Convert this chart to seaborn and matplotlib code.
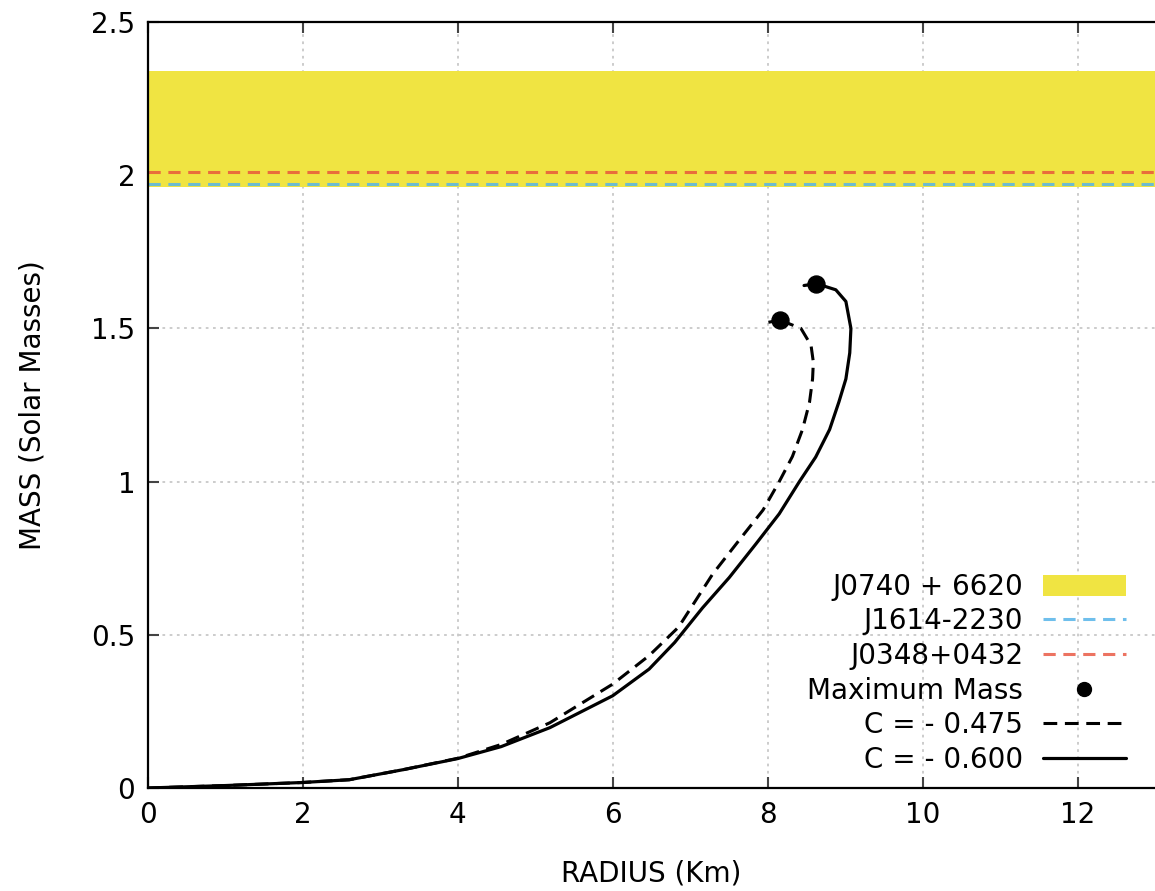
import matplotlib
matplotlib.use("Agg")
import matplotlib.pyplot as plt
import seaborn as sns
import numpy as np
import pandas as pd
from matplotlib.lines import Line2D
from matplotlib.patches import Patch

# ---- data ----
radius_c475 = [0.0, 0.5, 1.0, 1.5, 2.0, 2.6, 3.3, 4.0, 4.56, 5.19, 6.0, 6.47, 6.85, 7.29, 7.63,
               7.94, 8.15, 8.32, 8.45, 8.54, 8.58, 8.59, 8.56, 8.43, 8.16, 8.01]
mass_c475   = [0.0, 0.004, 0.008, 0.013, 0.018, 0.027, 0.060, 0.097, 0.142, 0.213, 0.339, 0.432, 0.525, 0.698, 0.808,
               0.907, 1.0, 1.082, 1.17, 1.258, 1.335, 1.39, 1.445, 1.50, 1.527, 1.52]

radius_c600 = [0.0, 0.5, 1.0, 1.5, 2.0, 2.6, 3.3, 4.0, 4.56, 5.19, 6.0, 6.47, 6.8, 7.16, 7.505,
               7.85, 8.15, 8.41, 8.62, 8.80, 8.92, 9.01, 9.06, 9.075, 9.01, 8.88, 8.63, 8.47]
mass_c600   = [0.0, 0.004, 0.008, 0.013, 0.018, 0.027, 0.060, 0.096, 0.135, 0.197, 0.301, 0.388, 0.475, 0.588, 0.687,
               0.797, 0.895, 1.0, 1.08, 1.17, 1.26, 1.335, 1.42, 1.50, 1.588, 1.626, 1.646, 1.64]

max_radius = [8.16, 8.63]
max_mass   = [1.527, 1.646]

j0740_low, j0740_high = 1.96, 2.34
j1614_mass = 1.97
j0348_mass = 2.01

labels = ["J0740 + 6620", "J1614-2230", "J0348+0432", "Maximum Mass", "C = - 0.475", "C = - 0.600"]
x_ticks = [0, 2, 4, 6, 8, 10, 12]
y_ticks = [0, 0.5, 1, 1.5, 2, 2.5]
y_tick_labels = ["0", "0.5", "1", "1.5", "2", "2.5"]

# ---- style ----
sns.set_theme(style="white")
plt.rcParams['font.family'] = ['DejaVu Sans']
plt.rcParams['text.color'] = 'black'
plt.rcParams['axes.labelcolor'] = 'black'

fig = plt.figure(figsize=(11.55, 8.91), dpi=100)
ax = fig.add_axes([0.128, 0.1156, 0.872, 0.8597])

yellow = "#f0e442"
blue = "#56b4e9"
red = "#e8503a"

ax.fill_between([0, 13], [j0740_low] * 2, [j0740_high] * 2, color=yellow, lw=0, zorder=1)
ax.axhline(j1614_mass, color=blue, lw=2.2, dashes=(4, 2.5), alpha=0.85, zorder=2)
ax.axhline(j0348_mass, color=red, lw=2.2, dashes=(4, 2.5), alpha=0.8, zorder=2)

df475 = pd.DataFrame({"R": radius_c475, "M": mass_c475})
df600 = pd.DataFrame({"R": radius_c600, "M": mass_c600})
sns.lineplot(data=df475, x="R", y="M", sort=False, estimator=None, ax=ax,
             color="black", lw=2.2, zorder=3)
ax.lines[-1].set_dashes((4.5, 2.5))
sns.lineplot(data=df600, x="R", y="M", sort=False, estimator=None, ax=ax,
             color="black", lw=2.3, zorder=3)
sns.scatterplot(x=max_radius, y=max_mass, ax=ax, color="black", s=150,
                edgecolor="black", zorder=4)

ax.set_xlim(0, 13)
ax.set_ylim(0, 2.5)
ax.set_xticks(x_ticks)
ax.set_yticks(y_ticks)
ax.set_xticklabels([str(t) for t in x_ticks])
ax.set_yticklabels(y_tick_labels)
ax.grid(True, color="#c8c8c8", linestyle=(0, (1.5, 2.5)), lw=1.3)
ax.set_axisbelow(True)

for s in ["left", "top", "bottom"]:
    ax.spines[s].set_color("black")
    ax.spines[s].set_linewidth(1.6)
ax.spines["right"].set_visible(False)
ax.tick_params(direction="in", length=8, width=1.5, color="#444444",
               top=True, bottom=True, left=True, right=False,
               labelsize=20, pad=9, labelcolor="black")

ax.set_xlabel("RADIUS (Km)", fontsize=20, labelpad=22)
ax.set_ylabel("MASS (Solar Masses)", fontsize=20, labelpad=32)

handles = [
    Patch(facecolor=yellow, edgecolor="none"),
    Line2D([], [], color=blue, lw=2.2, dashes=(4, 2.5), alpha=0.85),
    Line2D([], [], color=red, lw=2.2, dashes=(4, 2.5), alpha=0.8),
    Line2D([], [], color="black", lw=0, marker="o", markersize=10),
    Line2D([], [], color="black", lw=2.2, dashes=(4.5, 2.5)),
    Line2D([], [], color="black", lw=2.3),
]
ax.legend(handles, labels, loc="lower right", bbox_to_anchor=(0.985, 0.0),
          frameon=False, markerfirst=False, fontsize=20, handlelength=3.0,
          handletextpad=0.7, labelspacing=0.24, borderpad=0.3, borderaxespad=0.2,
          handleheight=0.8)

fig.savefig("out.png", dpi=100)
